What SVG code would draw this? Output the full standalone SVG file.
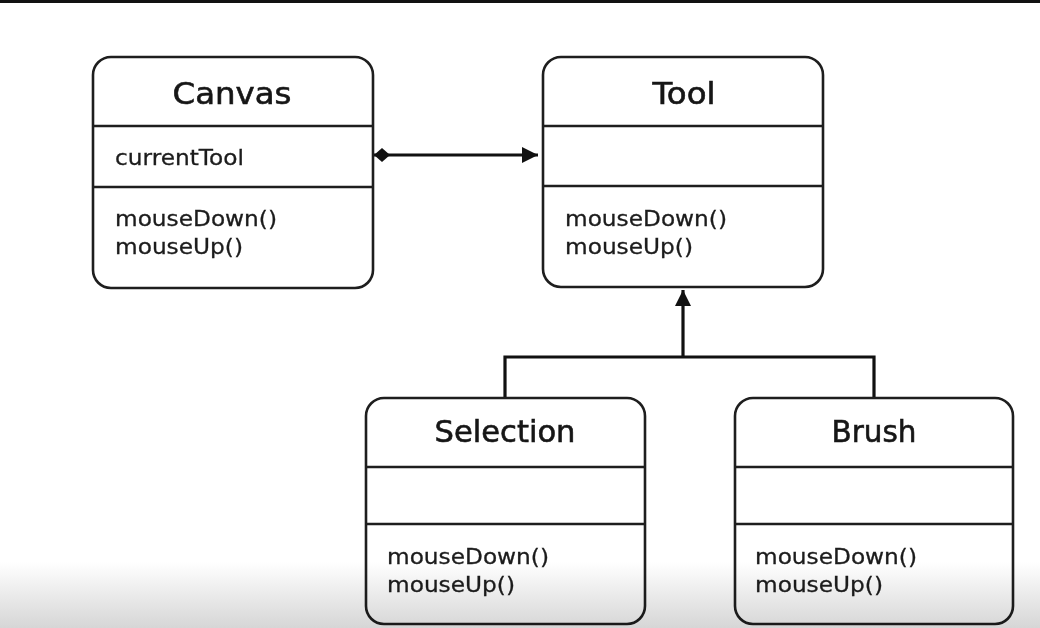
<svg xmlns="http://www.w3.org/2000/svg" width="1040" height="628" viewBox="0 0 1040 628">
<defs>
<style>
.box{fill:#fff;stroke:#1e1e1e;stroke-width:2.6}
.div{stroke:#1e1e1e;stroke-width:2.6}
.title{font-family:"DejaVu Sans","Open Sans",sans-serif;font-size:30px;fill:#161616;stroke:#161616;stroke-width:0.6;text-anchor:middle}
.item{font-family:"DejaVu Sans","Open Sans",sans-serif;font-size:21.5px;fill:#1c1c1c;stroke:#1c1c1c;stroke-width:0.3}
.conn{fill:none;stroke:#111;stroke-width:3.2}
</style>
<marker id="arrow" viewBox="0 0 16 16" refX="16" refY="8" markerWidth="16" markerHeight="16" markerUnits="userSpaceOnUse" orient="auto">
<path d="M0,0 L16,8 L0,16 Z" fill="#111"/>
</marker>
<marker id="diamond" viewBox="0 0 16 14" refX="0" refY="7" markerWidth="16" markerHeight="14" markerUnits="userSpaceOnUse" orient="auto">
<path d="M0,7 L8,0 L16,7 L8,14 Z" fill="#111"/>
</marker>
<linearGradient id="fade" x1="0" y1="0" x2="0" y2="1">
<stop offset="0" stop-color="#ffffff"/>
<stop offset="1" stop-color="#d6d6d6"/>
</linearGradient>
</defs>
<rect x="0" y="0" width="1040" height="628" fill="#fff"/>
<rect x="0" y="0" width="1040" height="3" fill="#111"/>

<g id="connectors">
<path class="conn" d="M374,155 L538,155" marker-start="url(#diamond)" marker-end="url(#arrow)"/>
<path class="conn" d="M505,398 L505,357 L874,357 L874,398"/>
<path class="conn" d="M683,357 L683,290" marker-end="url(#arrow)"/>
</g>

<g id="canvas">
<rect class="box" x="93" y="57" width="280" height="231" rx="18"/>
<line class="div" x1="93" y1="126" x2="373" y2="126"/>
<line class="div" x1="93" y1="187" x2="373" y2="187"/>
<text class="title" x="232" y="104" textLength="119" lengthAdjust="spacingAndGlyphs">Canvas</text>
<text class="item" x="115" y="165" textLength="129" lengthAdjust="spacingAndGlyphs">currentTool</text>
<text class="item" x="115" y="226" textLength="162" lengthAdjust="spacingAndGlyphs">mouseDown()</text>
<text class="item" x="115" y="254" textLength="128" lengthAdjust="spacingAndGlyphs">mouseUp()</text>
</g>

<g id="tool">
<rect class="box" x="543" y="57" width="280" height="230" rx="18"/>
<line class="div" x1="543" y1="126" x2="823" y2="126"/>
<line class="div" x1="543" y1="186" x2="823" y2="186"/>
<text class="title" x="684" y="104" textLength="63" lengthAdjust="spacingAndGlyphs">Tool</text>
<text class="item" x="565" y="226" textLength="162" lengthAdjust="spacingAndGlyphs">mouseDown()</text>
<text class="item" x="565" y="254" textLength="128" lengthAdjust="spacingAndGlyphs">mouseUp()</text>
</g>

<g id="selection">
<rect class="box" x="366" y="398" width="279" height="226" rx="18"/>
<line class="div" x1="366" y1="467" x2="645" y2="467"/>
<line class="div" x1="366" y1="524" x2="645" y2="524"/>
<text class="title" x="505" y="442" textLength="141" lengthAdjust="spacingAndGlyphs">Selection</text>
<text class="item" x="387" y="564" textLength="162" lengthAdjust="spacingAndGlyphs">mouseDown()</text>
<text class="item" x="387" y="592" textLength="128" lengthAdjust="spacingAndGlyphs">mouseUp()</text>
</g>

<g id="brush">
<rect class="box" x="735" y="398" width="278" height="226" rx="18"/>
<line class="div" x1="735" y1="467" x2="1013" y2="467"/>
<line class="div" x1="735" y1="524" x2="1013" y2="524"/>
<text class="title" x="874" y="442" textLength="85" lengthAdjust="spacingAndGlyphs">Brush</text>
<text class="item" x="755" y="564" textLength="162" lengthAdjust="spacingAndGlyphs">mouseDown()</text>
<text class="item" x="755" y="592" textLength="128" lengthAdjust="spacingAndGlyphs">mouseUp()</text>
</g>

<rect x="0" y="562" width="1040" height="66" fill="url(#fade)" style="mix-blend-mode:multiply"/>
</svg>
